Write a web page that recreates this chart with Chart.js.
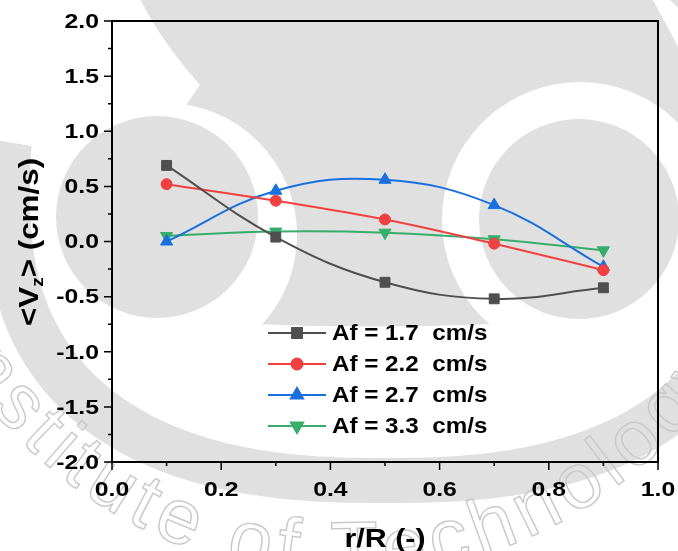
<!DOCTYPE html>
<html>
<head>
<meta charset="utf-8">
<script src="https://cdn.jsdelivr.net/npm/chart.js@4.4.1/dist/chart.umd.min.js"></script>
<style>
  html, body { margin: 0; padding: 0; background: #fff; }
  #plot { display: block; }
</style>
</head>
<body>
<canvas id="plot" width="678" height="551"></canvas>
<script>
// radial position r/R and mean axial velocity per flow rate
const radius = [0.1, 0.3, 0.5, 0.7, 0.9];
const af17 = [0.69, 0.04, -0.37, -0.52, -0.42];
const af22 = [0.52, 0.37, 0.20, -0.02, -0.26];
const af27 = [0.00, 0.46, 0.56, 0.33, -0.23];
const af33 = [0.05, 0.09, 0.08, 0.02, -0.08];
const seriesNames = ['Af = 1.7  cm/s', 'Af = 2.2  cm/s', 'Af = 2.7  cm/s', 'Af = 3.3  cm/s'];
const xTicks = [0.0, 0.2, 0.4, 0.6, 0.8, 1.0];
const yTicks = [-2.0, -1.5, -1.0, -0.5, 0.0, 0.5, 1.0, 1.5, 2.0];

const colors = ['#4f4f4f', '#f14040', '#1a6fdf', '#37ad6b'];
const markers = [
  { style: 'rect', rot: 0, r: 7 },
  { style: 'circle', rot: 0, r: 5.5 },
  { style: 'triangle', rot: 0, r: 7 },
  { style: 'triangle', rot: 180, r: 7 }
];
const FONT = '"Liberation Sans", Arial, sans-serif';

function label(ctx, s, x, y, size, align, base, sx) {
  ctx.save();
  ctx.translate(x, y);
  ctx.scale(sx, 1);
  ctx.font = 'bold ' + size + 'px ' + FONT;
  ctx.textAlign = align;
  ctx.textBaseline = base;
  ctx.fillStyle = '#000';
  ctx.fillText(s, 0, 0);
  ctx.restore();
}

function superArc(ctx, cx, cy, a, b, d0, d1) {
  const step = d1 > d0 ? 1 : -1;
  for (let d = d0; step > 0 ? d <= d1 : d >= d1; d += step) {
    const t = d * Math.PI / 180, c = Math.cos(t), s = Math.sin(t);
    ctx.lineTo(cx + a * Math.sign(c) * Math.pow(Math.abs(c), 0.8),
               cy + b * Math.sign(s) * Math.pow(Math.abs(s), 0.8));
  }
}

// faint emblem behind the plot
function drawEmblem(ctx, w, h) {
  const grey = '#e0e0e0';
  ctx.save();
  ctx.fillStyle = '#fff';
  ctx.fillRect(0, 0, w, h);
  ctx.fillStyle = grey;

  ctx.beginPath();
  superArc(ctx, 385, 190, 400, 313, -60, 186);
  superArc(ctx, 385, 190, 355, 268, 186, -60);
  ctx.closePath();
  ctx.fill();

  ctx.beginPath();
  ctx.moveTo(138, -5);
  ctx.lineTo(650, -5);
  ctx.quadraticCurveTo(670, 30, 705, 100);
  ctx.lineTo(705, 300);
  ctx.lineTo(600, 318);
  ctx.quadraticCurveTo(368, 335, 150, 318);
  ctx.lineTo(120, 200);
  ctx.lineTo(200, 85);
  ctx.quadraticCurveTo(160, 40, 138, -5);
  ctx.closePath();
  ctx.fill();

  const eyes = [[165, 235, 132, 157, 217, 101], [580, 220, 138, 579, 219, 100]];
  eyes.forEach(e => {
    ctx.fillStyle = '#fff';
    ctx.beginPath(); ctx.arc(e[0], e[1], e[2], 0, Math.PI * 2); ctx.fill();
    ctx.fillStyle = grey;
    ctx.beginPath(); ctx.arc(e[3], e[4], e[5], 0, Math.PI * 2); ctx.fill();
  });

  // lettering around the lower rim
  const text = 'Institute of Technology';
  const cx = 345, cy = 120, R = 456, gap = 7;
  ctx.font = '78px ' + FONT;
  ctx.textAlign = 'center';
  ctx.textBaseline = 'alphabetic';
  ctx.strokeStyle = '#c8c8c8';
  ctx.lineWidth = 1.4;
  const chars = [...text];
  const pos = [];
  let acc = 0;
  chars.forEach(ch => {
    const wd = ctx.measureText(ch).width;
    pos.push(acc + wd / 2);
    acc += wd + gap;
  });
  const anchor = pos[12];
  chars.forEach((ch, i) => {
    const th = 94 * Math.PI / 180 - (pos[i] - anchor) / R;
    ctx.save();
    ctx.translate(cx + R * Math.cos(th), cy + R * Math.sin(th));
    ctx.rotate(th - Math.PI / 2);
    ctx.strokeText(ch, 0, 0);
    ctx.restore();
  });
  ctx.restore();
}

const emblem = {
  id: 'emblem',
  beforeDraw(chart) {
    drawEmblem(chart.ctx, chart.width, chart.height);
  }
};

const frame = {
  id: 'frame',
  afterDraw(chart) {
    const ctx = chart.ctx;
    const a = chart.chartArea;
    const xs = chart.scales.x, ys = chart.scales.y;
    ctx.save();
    ctx.strokeStyle = '#000';
    ctx.lineWidth = 2;
    ctx.strokeRect(a.left, a.top, a.right - a.left, a.bottom - a.top);

    // ticks, major and minor, pointing outward
    ctx.lineWidth = 1.5;
    ctx.beginPath();
    const yv = ys.ticks.map(t => t.value);
    yv.forEach((v, i) => {
      const p = ys.getPixelForValue(v);
      ctx.moveTo(a.left - 8, p); ctx.lineTo(a.left, p);
      if (i < yv.length - 1) {
        const m = ys.getPixelForValue((v + yv[i + 1]) / 2);
        ctx.moveTo(a.left - 4, m); ctx.lineTo(a.left, m);
      }
    });
    const xv = xs.ticks.map(t => t.value);
    xv.forEach((v, i) => {
      const p = xs.getPixelForValue(v);
      ctx.moveTo(p, a.bottom); ctx.lineTo(p, a.bottom + 8);
      if (i < xv.length - 1) {
        const m = xs.getPixelForValue((v + xv[i + 1]) / 2);
        ctx.moveTo(m, a.bottom); ctx.lineTo(m, a.bottom + 4);
      }
    });
    ctx.stroke();

    yv.forEach(v => label(ctx, v.toFixed(1), a.left - 13, ys.getPixelForValue(v) + 1, 21, 'right', 'middle', 1.18));
    xv.forEach(v => label(ctx, v.toFixed(1), xs.getPixelForValue(v), 490, 21, 'center', 'middle', 1.18));

    // axis titles
    label(ctx, 'r/R (-)', 385, 547, 26, 'center', 'alphabetic', 1.17);

    ctx.save();
    ctx.translate(38, 242);
    ctx.rotate(-Math.PI / 2);
    ctx.scale(1.12, 1);
    ctx.fillStyle = '#000';
    ctx.textBaseline = 'alphabetic';
    ctx.textAlign = 'left';
    const big = 'bold 28px ' + FONT, small = 'bold 17px ' + FONT;
    ctx.font = big;
    const w1 = ctx.measureText('<V').width, w2 = ctx.measureText('> (cm/s)').width;
    ctx.font = small;
    const wz = ctx.measureText('z').width;
    let x0 = -(w1 + wz + w2) / 2;
    ctx.font = big; ctx.fillText('<V', x0, 0);
    ctx.font = small; ctx.fillText('z', x0 + w1, 5);
    ctx.font = big; ctx.fillText('> (cm/s)', x0 + w1 + wz, 0);
    ctx.restore();

    // legend
    const rows = [333, 364, 395, 426];
    chart.data.datasets.forEach((ds, i) => {
      const y = rows[i];
      ctx.strokeStyle = ds.borderColor;
      ctx.lineWidth = 2;
      ctx.beginPath(); ctx.moveTo(268, y); ctx.lineTo(326, y); ctx.stroke();
      ctx.fillStyle = ds.borderColor;
      ctx.strokeStyle = ds.borderColor;
      Chart.helpers.drawPoint(ctx, {
        pointStyle: ds.pointStyle, rotation: ds.pointRotation,
        radius: ds.pointRadius, borderWidth: 1
      }, 297, y);
      label(ctx, ds.label, 332, y + 1, 22, 'left', 'middle', 1.1);
    });
    ctx.restore();
  }
};

const series = [af17, af22, af27, af33];
const datasets = series.map((vals, i) => ({
  label: seriesNames[i],
  data: radius.map((r, j) => ({ x: r, y: vals[j] })),
  borderColor: colors[i],
  backgroundColor: colors[i],
  borderWidth: 2,
  tension: 0.4,
  pointStyle: markers[i].style,
  pointRotation: markers[i].rot,
  pointRadius: markers[i].r,
  pointBorderWidth: 1,
  pointBackgroundColor: colors[i],
  pointBorderColor: colors[i]
}));

new Chart(document.getElementById('plot'), {
  type: 'line',
  data: { datasets },
  options: {
    responsive: false,
    animation: false,
    events: [],
    layout: { padding: { left: 0, top: 21, right: 20, bottom: 0 } },
    plugins: { legend: { display: false }, tooltip: { enabled: false } },
    scales: {
      x: {
        type: 'linear', min: xTicks[0], max: xTicks[xTicks.length - 1],
        ticks: { stepSize: 0.2, display: false },
        grid: { display: false }, border: { display: false },
        afterFit(s) { s.height = 89; }
      },
      y: {
        min: yTicks[0], max: yTicks[yTicks.length - 1],
        ticks: { stepSize: 0.5, display: false },
        grid: { display: false }, border: { display: false },
        afterFit(s) { s.width = 112; }
      }
    }
  },
  plugins: [emblem, frame]
});
</script>
</body>
</html>
